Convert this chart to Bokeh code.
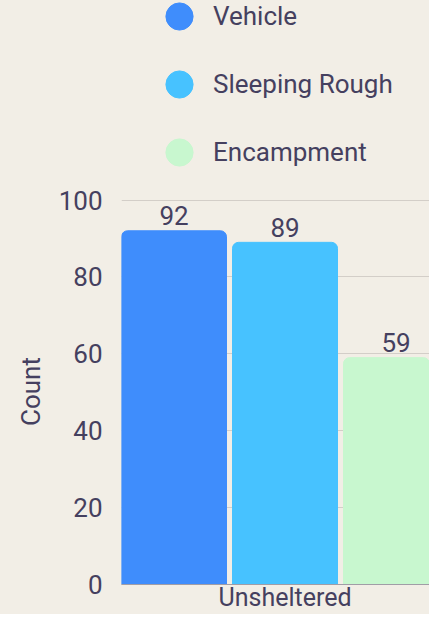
from bokeh.plotting import figure
from bokeh.layouts import column
from bokeh.models import ColumnDataSource, Range1d, FixedTicker, Legend, LegendItem
from bokeh.core.properties import value
from bokeh.embed import file_html
from bokeh.resources import INLINE

categories = ["Unsheltered"]
series = ["Vehicle", "Sleeping Rough", "Encampment"]
values = [92, 89, 59]
colors = ["#3f8dfc", "#47c2ff", "#c8f7cf"]
y_ticks = [0, 20, 40, 60, 80, 100]

BG = "#f2eee6"
TXT = "#45405f"
FONT = "Roboto"

W = 429
LEFT = 121
slot = 0.3
offsets = [-slot, 0.0, slot]
bar_w = slot * 105 / 111
xs = [categories.index("Unsheltered") + o for o in offsets]

src = ColumnDataSource(dict(x=xs, top=values, color=colors, label=[str(v) for v in values], name=series))

# ---- legend strip above the chart ----
lf = figure(width=W, height=184, output_backend="svg", toolbar_location=None,
            x_range=Range1d(0, 1), y_range=Range1d(0, 1), x_axis_type=None, y_axis_type=None,
            min_border=0, background_fill_color=None, border_fill_color=None, outline_line_color=None)
items = []
for s, c in zip(series, colors):
    r = lf.scatter(x=[float("nan")], y=[float("nan")], marker="circle", color=c)
    items.append(LegendItem(label=s, renderers=[r]))
leg = Legend(items=items, location=(24, -2), orientation="vertical",
             glyph_width=68, glyph_height=68, spacing=-1, label_standoff=-6,
             label_text_font=FONT, label_text_font_size="26px", label_text_color=TXT,
             padding=0, margin=0, border_line_color=None, background_fill_alpha=0)
lf.add_layout(leg, "center")

# ---- main chart ----
p = figure(width=W, height=430, output_backend="svg", toolbar_location=None,
           x_range=Range1d(-slot - bar_w / 2, -slot - bar_w / 2 + (W - LEFT) / 370),
           y_range=Range1d(0, 100.4),
           min_border_left=LEFT, min_border_right=0, min_border_top=14, min_border_bottom=0,
           background_fill_color=BG, border_fill_color=BG, outline_line_color=None)

p.vbar(x="x", top="top", width=bar_w, bottom=0, color="color", source=src,
       border_radius=(6, 6, 0, 0))

p.text(x="x", y="top", text="label", source=src, text_align="center", text_baseline="alphabetic",
       y_offset=-15, text_font_size="26px", text_color=TXT, text_font=value(FONT))

p.xgrid.grid_line_color = None
p.ygrid.grid_line_color = "#d3cec8"
p.ygrid.grid_line_width = 1

p.yaxis.ticker = FixedTicker(ticks=y_ticks)
p.yaxis.axis_line_color = None
p.yaxis.major_tick_line_color = None
p.yaxis.minor_tick_line_color = None
p.yaxis.major_tick_out = 0
p.yaxis.major_label_standoff = 19
p.yaxis.major_label_text_font = FONT
p.yaxis.major_label_text_font_size = "26px"
p.yaxis.major_label_text_color = TXT
p.yaxis.axis_label = "Count"
p.yaxis.axis_label_text_font = FONT
p.yaxis.axis_label_text_font_size = "26px"
p.yaxis.axis_label_text_font_style = "normal"
p.yaxis.axis_label_text_color = TXT
p.yaxis.axis_label_standoff = 10

p.xaxis.ticker = FixedTicker(ticks=[float(i) for i in range(len(categories))])
p.xaxis.major_label_overrides = {float(i): c for i, c in enumerate(categories)}
p.xaxis.axis_line_color = "#a19da6"
p.xaxis.major_tick_line_color = None
p.xaxis.minor_tick_line_color = None
p.xaxis.major_tick_out = 0
p.xaxis.major_label_standoff = -2
p.xaxis.major_label_text_font = FONT
p.xaxis.major_label_text_font_size = "25px"
p.xaxis.major_label_text_color = TXT

layout = column(lf, p, spacing=0, styles={"background-color": BG})
open("out.html", "w").write(file_html(layout, INLINE))
